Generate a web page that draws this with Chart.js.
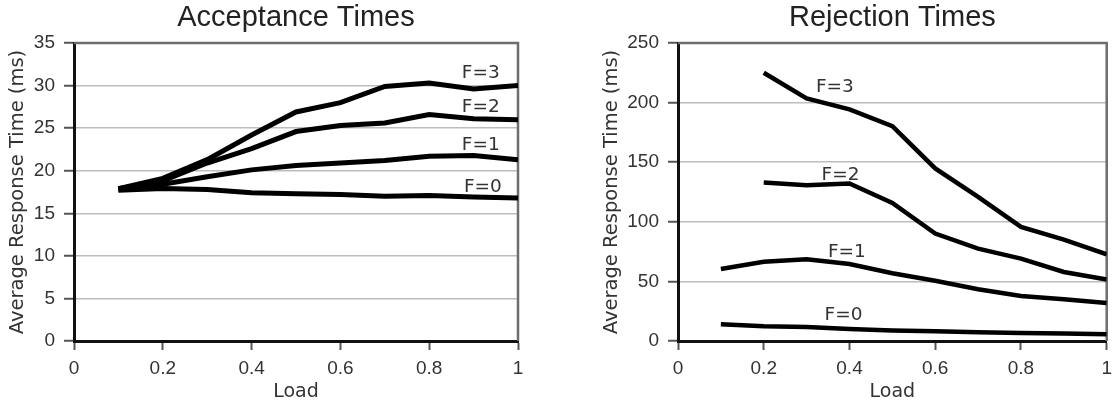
<!DOCTYPE html>
<html>
<head>
<meta charset="utf-8">
<script src="https://cdn.jsdelivr.net/npm/chart.js@4"></script>
<style>
  html, body { margin: 0; padding: 0; background: #fff; }
  .panel { position: absolute; top: 0; height: 406px; }
  #leftPanel { left: 0; width: 560px; }
  #rightPanel { left: 560px; width: 559px; }
</style>
</head>
<body>
<div class="panel" id="leftPanel"><canvas id="acceptChart" width="560" height="406"></canvas></div>
<div class="panel" id="rightPanel"><canvas id="rejectChart" width="559" height="406"></canvas></div>
<script>
// Load values on the x axis
const loads = [0.1, 0.2, 0.3, 0.4, 0.5, 0.6, 0.7, 0.8, 0.9, 1.0];
const seriesNames = ['F=0', 'F=1', 'F=2', 'F=3'];

// Acceptance times (ms)
const acceptF0 = [17.7, 17.9, 17.8, 17.4, 17.3, 17.2, 17.0, 17.1, 16.9, 16.8];
const acceptF1 = [17.8, 18.4, 19.3, 20.1, 20.6, 20.9, 21.2, 21.7, 21.8, 21.3];
const acceptF2 = [17.9, 18.8, 20.9, 22.6, 24.6, 25.3, 25.6, 26.6, 26.1, 26.0];
const acceptF3 = [17.9, 19.1, 21.3, 24.2, 26.9, 28.0, 29.9, 30.3, 29.6, 30.0];

// Rejection times (ms) - F=2 and F=3 start at load 0.2
const rejectF0 = [14.0, 12.3, 11.7, 10.0, 8.9, 8.1, 7.3, 6.7, 6.2, 5.6];
const rejectF1 = [60.4, 66.5, 68.5, 64.6, 56.8, 50.6, 43.4, 37.8, 35.0, 31.9];
const rejectF2 = [null, 133.0, 130.7, 132.1, 115.8, 90.1, 77.5, 69.1, 57.9, 51.6];
const rejectF3 = [null, 225.0, 203.5, 194.3, 180.3, 144.8, 120.9, 95.7, 85.1, 72.7];

// Where the F=n labels sit, in data units
const acceptLabelX = [0.921, 0.916, 0.916, 0.916];
const acceptLabelY = [18.1, 23.0, 27.5, 31.4];
const rejectLabelX = [0.386, 0.394, 0.379, 0.366];
const rejectLabelY = [21.8, 74.9, 139.3, 212.7];

const toPoints = (vals) => loads.map((x, i) => ({ x: x, y: vals[i] }));

// Draws the "F=n" text next to each curve
const seriesLabels = {
    id: 'seriesLabels',
    afterDatasetsDraw(chart, args, opts) {
        const { ctx, scales } = chart;
        ctx.save();
        ctx.font = '18.5px "DejaVu Sans"';
        ctx.fillStyle = '#333';
        ctx.textAlign = 'center';
        ctx.textBaseline = 'middle';
        opts.xs.forEach((xv, i) => {
            ctx.fillText(seriesNames[i], scales.x.getPixelForValue(xv), scales.y.getPixelForValue(opts.ys[i]));
        });
        ctx.restore();
    }
};

// Top and right edges of the plot area
const plotFrame = {
    id: 'plotFrame',
    beforeDatasetsDraw(chart) {
        const { ctx, chartArea: a } = chart;
        ctx.save();
        ctx.strokeStyle = '#6e6e6e';
        ctx.lineWidth = 2.5;
        ctx.beginPath();
        ctx.moveTo(a.left, a.top);
        ctx.lineTo(a.right, a.top);
        ctx.lineTo(a.right, a.bottom);
        ctx.stroke();
        ctx.restore();
    }
};

function makeChart(canvasId, cfg) {
    const ctx = document.getElementById(canvasId).getContext('2d');
    return new Chart(ctx, {
        type: 'line',
        data: {
            datasets: cfg.series.map((vals, i) => ({
                label: seriesNames[i],
                data: toPoints(vals),
                borderColor: '#000',
                borderWidth: cfg.lineWidth,
                pointRadius: 0,
                tension: 0,
                fill: false
            }))
        },
        plugins: [plotFrame, seriesLabels],
        options: {
            responsive: false,
            animation: false,
            layout: { padding: cfg.padding },
            plugins: {
                legend: { display: false },
                tooltip: { enabled: false },
                title: {
                    display: true,
                    text: cfg.title,
                    fullSize: false,
                    color: '#222',
                    font: { family: 'Liberation Sans', size: 29, weight: 'normal' },
                    padding: { top: 1, bottom: 7.2 }
                },
                seriesLabels: { xs: cfg.labelX, ys: cfg.labelY }
            },
            scales: {
                x: {
                    type: 'linear',
                    min: 0,
                    max: 1,
                    afterFit: (scale) => { scale.height = 65; },
                    ticks: {
                        stepSize: 0.2,
                        color: '#333',
                        padding: 7,
                        maxRotation: 0,
                        font: { family: 'Liberation Sans', size: 19 },
                        callback: (v) => String(Number(v.toFixed(1)))
                    },
                    grid: {
                        drawOnChartArea: false,
                        tickLength: 9,
                        tickColor: '#555',
                        tickWidth: 2
                    },
                    border: { color: '#111', width: 3 },
                    title: {
                        display: true,
                        text: 'Load',
                        color: '#333',
                        font: { family: 'DejaVu Sans', size: 19 },
                        padding: { top: 0, bottom: 2.5 }
                    }
                },
                y: {
                    min: 0,
                    max: cfg.yMax,
                    afterFit: (scale) => { scale.width = cfg.yWidth; },
                    ticks: {
                        stepSize: cfg.yStep,
                        color: '#333',
                        padding: 9,
                        font: { family: 'Liberation Sans', size: 19 }
                    },
                    grid: {
                        color: '#bdbdbd',
                        lineWidth: 1.5,
                        tickLength: 10,
                        tickColor: '#555',
                        tickWidth: 2
                    },
                    border: { color: '#111', width: 3 },
                    title: {
                        display: true,
                        text: 'Average Response Time (ms)',
                        color: '#333',
                        font: { family: 'DejaVu Sans', size: 19.5 },
                        padding: { top: 6.5, bottom: 0 }
                    }
                }
            }
        }
    });
}

makeChart('acceptChart', {
    title: 'Acceptance Times',
    series: [acceptF0, acceptF1, acceptF2, acceptF3],
    labelX: acceptLabelX,
    labelY: acceptLabelY,
    yMax: 35,
    yStep: 5,
    yWidth: 74,
    lineWidth: 5,
    padding: { left: 0, right: 42, top: 0, bottom: 0 }
});

makeChart('rejectChart', {
    title: 'Rejection Times',
    series: [rejectF0, rejectF1, rejectF2, rejectF3],
    labelX: rejectLabelX,
    labelY: rejectLabelY,
    yMax: 250,
    yStep: 50,
    yWidth: 84,
    lineWidth: 4.5,
    padding: { left: 34, right: 8, top: 0, bottom: 0 }
});
</script>
</body>
</html>
